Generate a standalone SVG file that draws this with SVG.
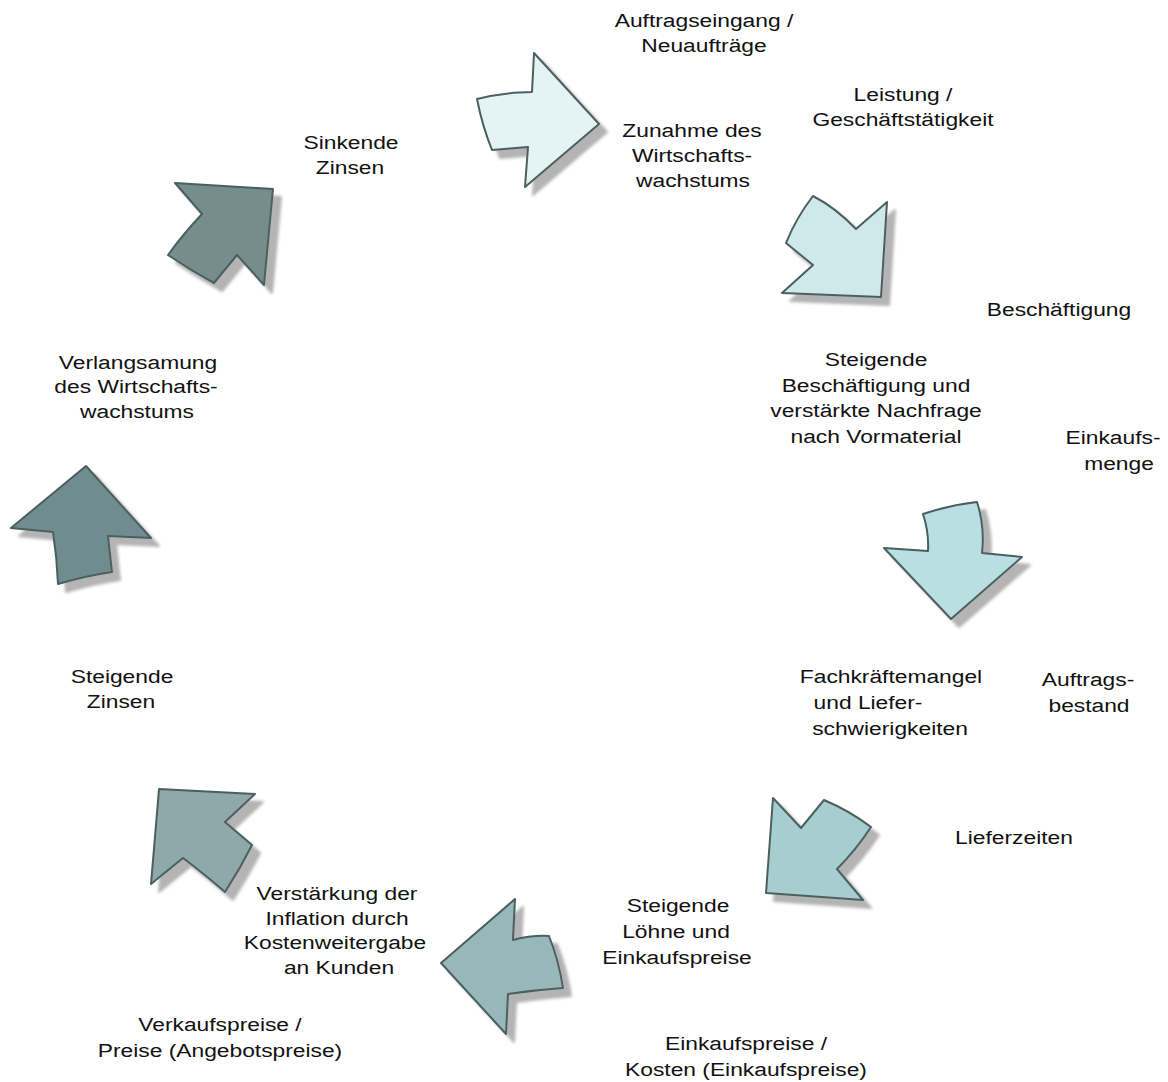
<svg xmlns="http://www.w3.org/2000/svg" width="1168" height="1082" viewBox="0 0 1168 1082">
<defs>
<filter id="sh" x="-20%" y="-20%" width="150%" height="150%">
<feGaussianBlur in="SourceAlpha" stdDeviation="1.5" result="b"/>
<feOffset in="b" dx="8" dy="8" result="o"/>
<feFlood flood-color="#9a9a9a" flood-opacity="0.75"/>
<feComposite in2="o" operator="in" result="s"/>
<feMerge><feMergeNode in="s"/><feMergeNode in="SourceGraphic"/></feMerge>
</filter>
<style>
.arr{stroke:#4b5f5f;stroke-width:2;stroke-linejoin:round;filter:url(#sh)}
text{font-family:"Liberation Sans",Arial,sans-serif;font-size:19px;fill:#111;text-anchor:middle}
</style>
</defs>
<rect width="1168" height="1082" fill="#fff"/>
<g id="connectors">
<path class="arr" fill="#e4f3f4" d="M477,99 Q505,92 532,92 L534,53 L599,124 L525,187 L528,147 L492,150 Q482,125 477,99 Z"/>
<path class="arr" fill="#cfe8ea" d="M813,196 Q836,208 856,229 L887,202 L881,297 L782,293 L813,265 L786,243 Q796,218 813,196 Z"/>
<path class="arr" fill="#b9dfe2" d="M923,514 Q950,505 977,502 Q985,527 982,553 L1022,557 L951,619 L884,548 L928,551 Q929,532 923,514 Z"/>
<path class="arr" fill="#a6cdd0" d="M773,798 L801,828 L824,800 Q850,811 871,827 Q856,850 837,869 L863,900 L766,893 Z"/>
<path class="arr" fill="#97b8b9" d="M441,963 L515,899 L513,940 Q532,935 549,936 Q559,961 563,988 Q535,990 508,994 L506,1034 Z"/>
<path class="arr" fill="#8fa9aa" d="M159,789 L255,794 L225,822 L252,845 Q240,869 225,892 Q203,873 183,858 L151,884 Z"/>
<path class="arr" fill="#718c8f" d="M86,466 L151,538 L108,536 Q110,554 112,572 Q85,576 58,584 Q57,558 53,532 L11,528 Z"/>
<path class="arr" fill="#758d8d" d="M175,183 L273,189 L264,285 L237,255 L214,283 Q190,270 168,255 Q184,233 202,214 Z"/>
</g>
<g id="n-auftragseingang">
<text transform="translate(704 27) scale(1.2 1)">Auftragseingang /</text>
<text transform="translate(704 52) scale(1.2 1)">Neuaufträge</text>
</g>
<g id="n-leistung">
<text transform="translate(903 101) scale(1.2 1)">Leistung /</text>
<text transform="translate(903 126) scale(1.2 1)">Geschäftstätigkeit</text>
</g>
<g id="n-zunahme">
<text transform="translate(692 137) scale(1.2 1)">Zunahme des</text>
<text transform="translate(692 162) scale(1.2 1)">Wirtschafts-</text>
<text transform="translate(693 187) scale(1.2 1)">wachstums</text>
</g>
<g id="n-sinkende">
<text transform="translate(351 149) scale(1.2 1)">Sinkende</text>
<text transform="translate(350 174) scale(1.2 1)">Zinsen</text>
</g>
<g id="n-beschaeftigung">
<text transform="translate(1059 316) scale(1.2 1)">Beschäftigung</text>
</g>
<g id="n-steigende-beschaeftigung">
<text transform="translate(876 366) scale(1.2 1)">Steigende</text>
<text transform="translate(876 392) scale(1.2 1)">Beschäftigung und</text>
<text transform="translate(876 417) scale(1.2 1)">verstärkte Nachfrage</text>
<text transform="translate(876 443) scale(1.2 1)">nach Vormaterial</text>
</g>
<g id="n-einkaufsmenge">
<text transform="translate(1113 444) scale(1.2 1)">Einkaufs-</text>
<text transform="translate(1119 470) scale(1.2 1)">menge</text>
</g>
<g id="n-verlangsamung">
<text transform="translate(138 369) scale(1.2 1)">Verlangsamung</text>
<text transform="translate(136 393) scale(1.2 1)">des Wirtschafts-</text>
<text transform="translate(137 418) scale(1.2 1)">wachstums</text>
</g>
<g id="n-fachkraefte">
<text transform="translate(891 683) scale(1.2 1)">Fachkräftemangel</text>
<text transform="translate(868 709) scale(1.2 1)">und  Liefer-</text>
<text transform="translate(890 735) scale(1.2 1)">schwierigkeiten</text>
</g>
<g id="n-auftragsbestand">
<text transform="translate(1088 686) scale(1.2 1)">Auftrags-</text>
<text transform="translate(1089 712) scale(1.2 1)">bestand</text>
</g>
<g id="n-steigende-zinsen">
<text transform="translate(122 683) scale(1.2 1)">Steigende</text>
<text transform="translate(121 708) scale(1.2 1)">Zinsen</text>
</g>
<g id="n-lieferzeiten">
<text transform="translate(1014 844) scale(1.2 1)">Lieferzeiten</text>
</g>
<g id="n-verstaerkung">
<text transform="translate(337 900) scale(1.2 1)">Verstärkung der</text>
<text transform="translate(337 925) scale(1.2 1)">Inflation durch</text>
<text transform="translate(335 949) scale(1.2 1)">Kostenweitergabe</text>
<text transform="translate(339 974) scale(1.2 1)">an Kunden</text>
</g>
<g id="n-loehne">
<text transform="translate(678 912) scale(1.2 1)">Steigende</text>
<text transform="translate(676 938) scale(1.2 1)">Löhne und</text>
<text transform="translate(677 964) scale(1.2 1)">Einkaufspreise</text>
</g>
<g id="n-verkaufspreise">
<text transform="translate(220 1031) scale(1.2 1)">Verkaufspreise /</text>
<text transform="translate(220 1057) scale(1.2 1)">Preise (Angebotspreise)</text>
</g>
<g id="n-einkaufspreise">
<text transform="translate(746 1050) scale(1.2 1)">Einkaufspreise /</text>
<text transform="translate(746 1076) scale(1.2 1)">Kosten (Einkaufspreise)</text>
</g>
</svg>
